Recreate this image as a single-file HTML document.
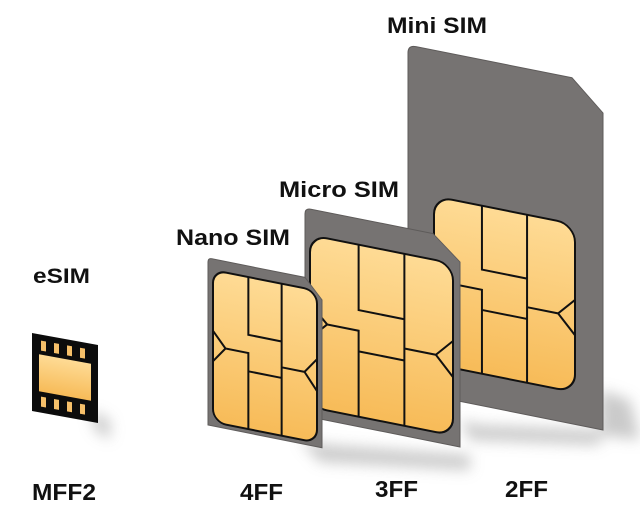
<!DOCTYPE html>
<html><head><meta charset="utf-8"><style>
html,body{margin:0;padding:0;background:#fff;}
svg{display:block;}
text{font-family:"Liberation Sans","DejaVu Sans",sans-serif;font-weight:bold;fill:#111;}
</style></head><body>
<svg width="640" height="511" viewBox="0 0 640 511" xmlns="http://www.w3.org/2000/svg">
<defs>
<linearGradient id="g" x1="0" y1="0" x2="0" y2="1">
<stop offset="0" stop-color="#fedb95"/><stop offset="1" stop-color="#f7bb58"/>
</linearGradient>
<filter id="blur" x="-50%" y="-50%" width="200%" height="200%"><feGaussianBlur stdDeviation="7"/></filter>
<g id="pat" fill="none" stroke="#111" stroke-width="2" vector-effect="non-scaling-stroke">
<path vector-effect="non-scaling-stroke" d="M0.34,0 V0.38 H0.66 M0.66,0 V1 M0.34,1 V0.5 H0.12 L0,0.4 M0.12,0.5 L0,0.6 M0.34,0.62 H0.66 M0.66,0.55 H0.88 L1,0.45 M0.88,0.55 L1,0.66"/>
</g>
</defs>

<g filter="url(#blur)" fill="#bdbdbd" opacity="0.8">
<polygon points="600,390 630,400 640,440 600,435"/>
<polygon points="300,440 330,445 470,455 470,470 320,462"/>
<polygon points="460,420 480,425 600,430 600,445 470,440"/>
<polygon points="90,410 110,420 110,440 95,430"/>
</g>

<g transform="translate(408,45) skewY(11.3)">
<path d="M8,0 H164 L195,29 V346 H0 V8 Q0,0 8,0 Z" fill="#767372" stroke="#5e5b5a" stroke-width="1"/>
<g transform="translate(26,146)">
<rect x="0" y="0" width="141" height="168" rx="18" fill="url(#g)" stroke="#111" stroke-width="2"/>
<use href="#pat" transform="scale(141,168)"/>
</g>
</g>

<g transform="translate(305,208) skewY(11.3)">
<path d="M6,0 H128 L155,23 V208 H0 V6 Q0,0 6,0 Z" fill="#767372" stroke="#5e5b5a" stroke-width="1"/>
<g transform="translate(5,26)">
<rect x="0" y="0" width="143" height="172" rx="17" fill="url(#g)" stroke="#111" stroke-width="2"/>
<use href="#pat" transform="scale(143,172)"/>
</g>
</g>

<g transform="translate(208,258) skewY(11.3)">
<path d="M4,0 H97 L114,19 V167 H0 V4 Q0,0 4,0 Z" fill="#767372" stroke="#5e5b5a" stroke-width="1"/>
<g transform="translate(5,11)">
<rect x="0" y="0" width="104" height="152" rx="13" fill="url(#g)" stroke="#111" stroke-width="2"/>
<use href="#pat" transform="scale(104,152)"/>
</g>
</g>

<g transform="translate(32,333) skewY(10.3)">
<rect x="0" y="0" width="66" height="78" fill="#0c0c0c"/>
<rect x="7" y="20" width="52" height="37" fill="url(#g)"/>
<g fill="#f6c06a">
<rect x="9" y="6" width="5" height="10"/><rect x="22" y="6" width="5" height="10"/><rect x="35" y="6" width="5" height="10"/><rect x="48" y="6" width="5" height="10"/>
<rect x="9" y="62" width="5" height="10"/><rect x="22" y="62" width="5" height="10"/><rect x="35" y="62" width="5" height="10"/><rect x="48" y="62" width="5" height="10"/>
</g>
</g>

<text x="387" y="33" font-size="22" textLength="100" lengthAdjust="spacingAndGlyphs">Mini SIM</text>
<text x="279" y="197" font-size="22" textLength="120" lengthAdjust="spacingAndGlyphs">Micro SIM</text>
<text x="176" y="245" font-size="22" textLength="114" lengthAdjust="spacingAndGlyphs">Nano SIM</text>
<text x="33" y="283" font-size="21" textLength="57" lengthAdjust="spacingAndGlyphs">eSIM</text>
<text x="32" y="500" font-size="23" textLength="64" lengthAdjust="spacingAndGlyphs">MFF2</text>
<text x="240" y="500" font-size="23" textLength="43" lengthAdjust="spacingAndGlyphs">4FF</text>
<text x="375" y="497" font-size="23" textLength="43" lengthAdjust="spacingAndGlyphs">3FF</text>
<text x="505" y="497" font-size="23" textLength="43" lengthAdjust="spacingAndGlyphs">2FF</text>
</svg>
</body></html>
